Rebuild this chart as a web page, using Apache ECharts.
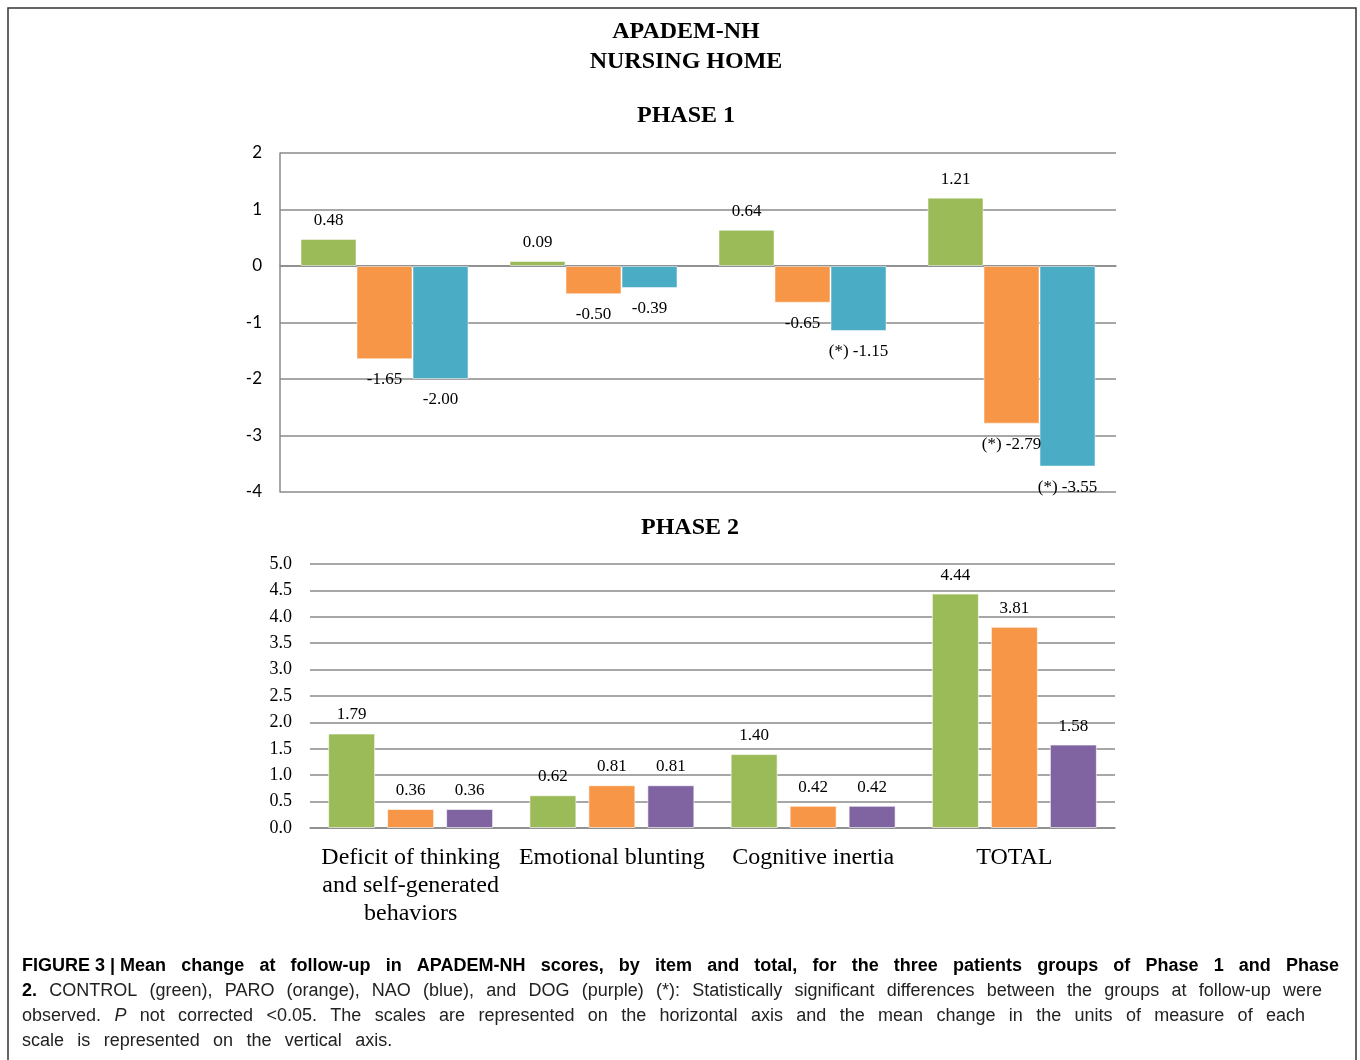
<!DOCTYPE html>
<html><head><meta charset="utf-8">
<script src="https://cdn.jsdelivr.net/npm/echarts@6/dist/echarts.min.js"></script>
<style>html,body{margin:0;padding:0;background:#fff}#chart{width:1360px;height:1060px}</style>
</head><body><div id="chart"></div>
<script>
// ---- data ----
const categories = ['Deficit of thinking\nand self-generated\nbehaviors', 'Emotional blunting', 'Cognitive inertia', 'TOTAL'];
const phase1Control = [0.48, 0.09, 0.64, 1.21];
const phase1Paro = [-1.65, -0.50, -0.65, -2.79];
const phase1Nao = [-2.00, -0.39, -1.15, -3.55];
const phase1ParoSignificant = [false, false, false, true];
const phase1NaoSignificant = [false, false, true, true];
const phase2Control = [1.79, 0.62, 1.40, 4.44];
const phase2Paro = [0.36, 0.81, 0.42, 3.81];
const phase2Dog = [0.36, 0.81, 0.42, 1.58];
const mainTitle = 'APADEM-NH\nNURSING HOME';
const phase1Title = 'PHASE 1';
const phase2Title = 'PHASE 2';
const captionLines = [
  [{t: 'FIGURE\u00a03\u00a0|\u00a0Mean', b: true}, {t: 'change at follow-up in APADEM-NH scores, by item and total, for the three patients groups of Phase 1 and Phase', b: true}],
  [{t: '2.', b: true}, {t: 'CONTROL (green), PARO (orange), NAO (blue), and DOG (purple) (*): Statistically significant differences between the groups at follow-up were'}],
  [{t: 'observed.'}, {t: 'P', i: true}, {t: 'not corrected <0.05. The scales are represented on the horizontal axis and the mean change in the units of measure of each'}],
  [{t: 'scale is represented on the vertical axis.'}]
];

// ---- styling ----
const C = {control: '#9BBB59', paro: '#F79646', nao: '#4BACC6', dog: '#8064A2'};
const GRID_C = '#8a8a8a';
const SERIF = '"Liberation Serif", "Times New Roman", serif';

function items(vals, sig) {
  return vals.map((v, i) => ({
    value: v,
    label: {
      position: v < 0 ? 'bottom' : 'top',
      distance: v < 0 ? 12 : 10,
      formatter: (sig && sig[i] ? '(*) ' : '') + v.toFixed(2)
    }
  }));
}
const labelStyle = {show: true, fontFamily: SERIF, fontSize: 17, color: '#000'};

// ---- caption layout (justified words) ----
const ctx = document.createElement('canvas').getContext('2d');
const CAP_SIZE = 18;
function capFont(w) { return (w.i ? 'italic ' : '') + (w.b ? 'bold ' : '') + CAP_SIZE + 'px "Liberation Sans"'; }
const lineRight = [1339, 1322, 1305, null];
const lineY = [966, 991, 1016, 1041];
const capX0 = 22;
const captionGraphics = [];
let lastGap = 8;
captionLines.forEach((line, li) => {
  const words = [];
  line.forEach(seg => seg.t.split(' ').forEach(t => words.push({t: t, b: seg.b, i: seg.i})));
  let total = 0;
  words.forEach(w => { ctx.font = capFont(w); w.w = ctx.measureText(w.t).width; total += w.w; });
  let gap = lastGap;
  if (lineRight[li] != null) gap = (lineRight[li] - capX0 - total) / (words.length - 1);
  lastGap = gap;
  let x = capX0;
  words.forEach(w => {
    captionGraphics.push({
      type: 'text', x: x, y: lineY[li], silent: true,
      style: {
        text: w.t, fontFamily: '"Liberation Sans"', fontSize: CAP_SIZE,
        fontWeight: w.b ? 'bold' : 'normal', fontStyle: w.i ? 'italic' : 'normal',
        fill: w.b ? '#000' : '#222', align: 'left', verticalAlign: 'middle',
        textAlign: 'left', textVerticalAlign: 'middle'
      }
    });
    x += w.w + gap;
  });
});

const chart = echarts.init(document.getElementById('chart'), null, {renderer: 'canvas'});
chart.setOption({
  animation: false,
  backgroundColor: '#fff',
  title: [
    {text: mainTitle, left: 686, top: 17, textAlign: 'center', padding: 0,
     textStyle: {fontFamily: SERIF, fontWeight: 'bold', fontSize: 24, lineHeight: 30, color: '#000'}},
    {text: phase1Title, left: 686, top: 104, textAlign: 'center', padding: 0,
     textStyle: {fontFamily: SERIF, fontWeight: 'bold', fontSize: 24, color: '#000'}},
    {text: phase2Title, left: 690, top: 516, textAlign: 'center', padding: 0,
     textStyle: {fontFamily: SERIF, fontWeight: 'bold', fontSize: 24, color: '#000'}}
  ],
  grid: [
    {left: 280, top: 153, width: 836, height: 339},
    {left: 310, top: 564, width: 805, height: 264}
  ],
  xAxis: [
    {type: 'category', gridIndex: 0, data: categories,
     axisLabel: {show: false}, axisTick: {show: false},
     axisLine: {show: true, lineStyle: {color: GRID_C, width: 1.5}}},
    {type: 'category', gridIndex: 1, data: categories,
     axisTick: {show: false},
     axisLine: {show: true, lineStyle: {color: GRID_C, width: 1.5}},
     axisLabel: {interval: 0, fontFamily: SERIF, fontSize: 24, lineHeight: 28, color: '#000', margin: 16}}
  ],
  yAxis: [
    {type: 'value', gridIndex: 0, min: -4, max: 2, interval: 1,
     axisLine: {show: true, lineStyle: {color: GRID_C, width: 1.5}}, axisTick: {show: false},
     splitLine: {lineStyle: {color: GRID_C, width: 1.5}},
     axisLabel: {fontFamily: 'Lato, "Liberation Sans", sans-serif', fontSize: 17, color: '#000', margin: 18}},
    {type: 'value', gridIndex: 1, min: 0, max: 5, interval: 0.5,
     axisLine: {show: false}, axisTick: {show: false},
     splitLine: {lineStyle: {color: GRID_C, width: 1.5}},
     axisLabel: {fontFamily: SERIF, fontSize: 18, color: '#000', margin: 18, formatter: v => v.toFixed(1)}}
  ],
  series: [
    {name: 'CONTROL', type: 'bar', xAxisIndex: 0, yAxisIndex: 0, barWidth: 56, barGap: '0%',
     itemStyle: {color: C.control, borderColor: 'rgba(255,255,255,0.5)', borderWidth: 1},
     label: labelStyle, data: items(phase1Control)},
    {name: 'PARO', type: 'bar', xAxisIndex: 0, yAxisIndex: 0, barWidth: 56, barGap: '0%',
     itemStyle: {color: C.paro, borderColor: 'rgba(255,255,255,0.5)', borderWidth: 1},
     label: labelStyle, data: items(phase1Paro, phase1ParoSignificant)},
    {name: 'NAO', type: 'bar', xAxisIndex: 0, yAxisIndex: 0, barWidth: 56, barGap: '0%',
     itemStyle: {color: C.nao, borderColor: 'rgba(255,255,255,0.5)', borderWidth: 1},
     label: labelStyle, data: items(phase1Nao, phase1NaoSignificant)},
    {name: 'CONTROL ', type: 'bar', xAxisIndex: 1, yAxisIndex: 1, barWidth: 47, barGap: '25.5%',
     itemStyle: {color: C.control, borderColor: 'rgba(255,255,255,0.6)', borderWidth: 1},
     label: Object.assign({}, labelStyle, {distance: 9}), data: items(phase2Control)},
    {name: 'PARO ', type: 'bar', xAxisIndex: 1, yAxisIndex: 1, barWidth: 47, barGap: '25.5%',
     itemStyle: {color: C.paro, borderColor: 'rgba(255,255,255,0.6)', borderWidth: 1},
     label: Object.assign({}, labelStyle, {distance: 9}), data: items(phase2Paro)},
    {name: 'DOG', type: 'bar', xAxisIndex: 1, yAxisIndex: 1, barWidth: 47, barGap: '25.5%',
     itemStyle: {color: C.dog, borderColor: 'rgba(255,255,255,0.6)', borderWidth: 1},
     label: Object.assign({}, labelStyle, {distance: 9}), data: items(phase2Dog)}
  ],
  graphic: [
    {type: 'rect', silent: true, z: -1, shape: {x: 8, y: 8, width: 1348, height: 1080},
     style: {fill: 'none', stroke: '#333', lineWidth: 1.5}}
  ].concat(captionGraphics)
});
</script>
</body></html>
